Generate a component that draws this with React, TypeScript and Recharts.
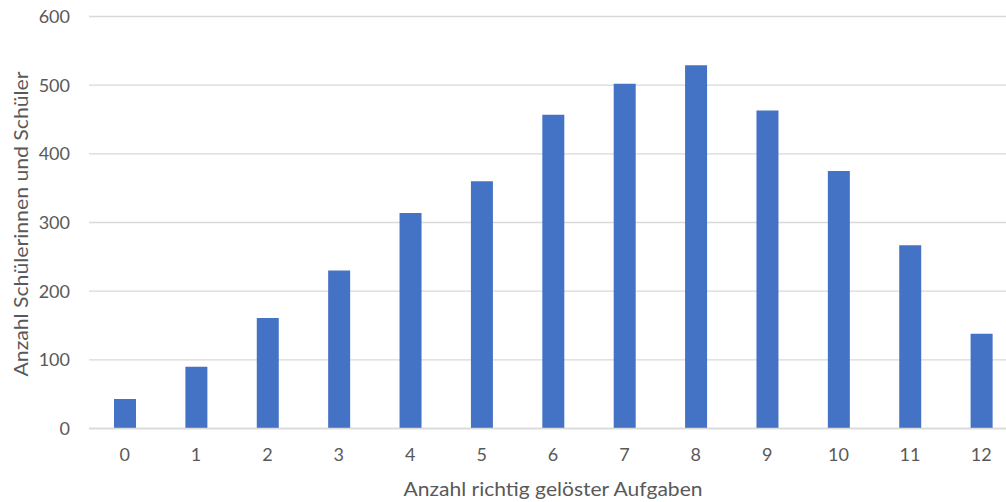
import React from "react";
import { BarChart, Bar, XAxis, YAxis, CartesianGrid } from "recharts";

// Number of correctly solved tasks (0..12)
const categories: string[] = ["0", "1", "2", "3", "4", "5", "6", "7", "8", "9", "10", "11", "12"];
// Number of students per score
const students: number[] = [43, 90, 161, 230, 314, 360, 457, 502, 529, 463, 375, 267, 138];
const yTicks: number[] = [0, 100, 200, 300, 400, 500, 600];

const xTitle = "Anzahl richtig gelöster Aufgaben";
const yTitle = "Anzahl Schülerinnen und Schüler";

const data = categories.map((c, i) => ({ score: c, count: students[i] }));

const FONT = "Lato, 'Open Sans', sans-serif";
const TEXT = "#595959";
const GRID = "#d9d9d9";

const XTitle = () => (
  <text
    x={553}
    y={496}
    textAnchor="middle"
    fill={TEXT}
    fontFamily={FONT}
    fontSize={19.5}
    textLength={299}
    lengthAdjust="spacingAndGlyphs"
  >
    {xTitle}
  </text>
);

const YTitle = () => {
  const cx = 28;
  const cy = 224;
  return (
    <text
      x={cx}
      y={cy}
      transform={`rotate(-90, ${cx}, ${cy})`}
      textAnchor="middle"
      fill={TEXT}
      fontFamily={FONT}
      fontSize={19.5}
      textLength={305}
      lengthAdjust="spacingAndGlyphs"
    >
      {yTitle}
    </text>
  );
};

export default function App() {
  return (
    <div
      style={{
        position: "fixed",
        left: 0,
        top: 0,
        width: 1006,
        height: 502,
        overflow: "hidden",
        background: "#ffffff",
      }}
    >
      <BarChart
        width={1017}
        height={502}
        data={data}
        margin={{ top: 16.5, right: 0, bottom: 0, left: 0 }}
      >
        <CartesianGrid vertical={false} stroke={GRID} strokeWidth={1.3} />
        <XAxis
          dataKey="score"
          height={73.5}
          axisLine={{ stroke: GRID, strokeWidth: 1.3 }}
          tickLine={false}
          tickSize={0}
          tickMargin={19.4}
          tick={{ fill: TEXT, fontSize: 18, fontFamily: FONT }}
          interval={0}
          label={XTitle}
        />
        <YAxis
          width={89}
          domain={[0, 600]}
          ticks={yTicks}
          axisLine={false}
          tickLine={false}
          tickSize={0}
          tickMargin={19}
          tick={{ fill: TEXT, fontSize: 18, fontFamily: FONT }}
          label={YTitle}
        />
        <Bar dataKey="count" fill="#4472c4" barSize={22} isAnimationActive={false} />
      </BarChart>
    </div>
  );
}
